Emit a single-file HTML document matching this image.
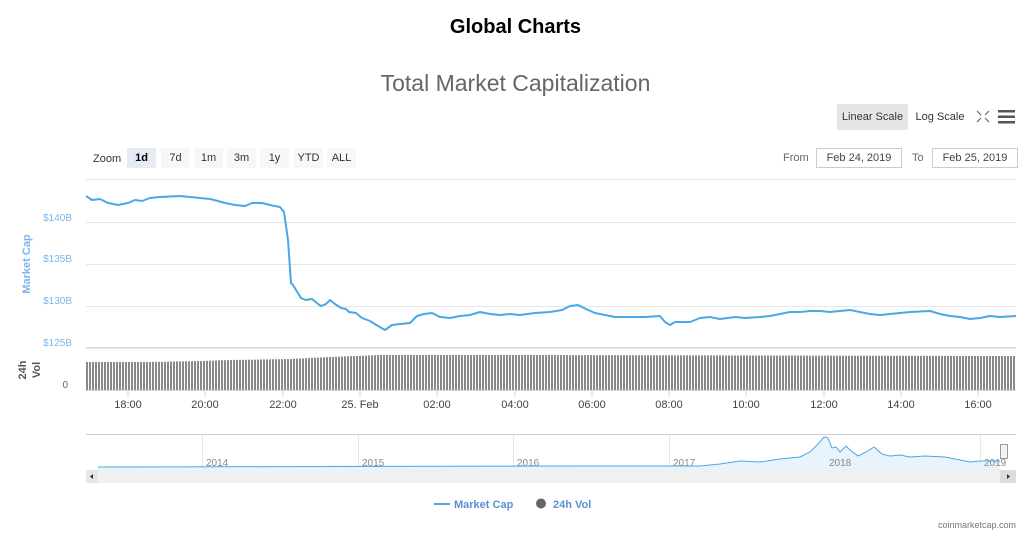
<!DOCTYPE html>
<html><head><meta charset="utf-8"><style>
body{margin:0;background:#fff;font-family:"Liberation Sans",sans-serif;}
svg text{font-family:"Liberation Sans",sans-serif;}
</style></head><body>
<svg width="1031" height="543" viewBox="0 0 1031 543" xmlns="http://www.w3.org/2000/svg">
<defs>
<pattern id="bars" x="86" y="0" width="3" height="10" patternUnits="userSpaceOnUse">
<rect x="0" y="0" width="2" height="10" fill="#8a8a8a"/>
</pattern>
</defs>
<text x="515.5" y="33" text-anchor="middle" font-size="20" font-weight="bold" fill="#000">Global Charts</text>
<text x="515.5" y="91" text-anchor="middle" font-size="23" fill="#666">Total Market Capitalization</text>
<!-- top right buttons -->
<rect x="837" y="104" width="71" height="26" fill="#e6e6e6"/>
<text x="872.5" y="120" text-anchor="middle" font-size="11" fill="#333">Linear Scale</text>
<text x="940" y="120" text-anchor="middle" font-size="11" fill="#333">Log Scale</text>
<g stroke="#666" stroke-width="1.2" fill="none">
<path d="M977 111 l4 4 M989 111 l-4 4 M977 122 l4 -4 M989 122 l-4 -4"/>
</g>
<rect x="998" y="110" width="17" height="2.5" fill="#555"/>
<rect x="998" y="115.5" width="17" height="2.5" fill="#555"/>
<rect x="998" y="121" width="17" height="2.5" fill="#555"/>
<!-- zoom buttons -->
<text x="93" y="162" font-size="11" fill="#333">Zoom</text>
<rect x="127" y="148" width="29" height="20" fill="#e6ebf5"/>
<text x="141.5" y="161" text-anchor="middle" font-size="11" font-weight="bold" fill="#000">1d</text>
<rect x="161" y="148" width="29" height="20" fill="#f7f7f7"/><text x="175.5" y="161" text-anchor="middle" font-size="11" fill="#333">7d</text>
<rect x="194" y="148" width="29" height="20" fill="#f7f7f7"/><text x="208.5" y="161" text-anchor="middle" font-size="11" fill="#333">1m</text>
<rect x="227" y="148" width="29" height="20" fill="#f7f7f7"/><text x="241.5" y="161" text-anchor="middle" font-size="11" fill="#333">3m</text>
<rect x="260" y="148" width="29" height="20" fill="#f7f7f7"/><text x="274.5" y="161" text-anchor="middle" font-size="11" fill="#333">1y</text>
<rect x="294" y="148" width="29" height="20" fill="#f7f7f7"/><text x="308.5" y="161" text-anchor="middle" font-size="11" fill="#333">YTD</text>
<rect x="327" y="148" width="29" height="20" fill="#f7f7f7"/><text x="341.5" y="161" text-anchor="middle" font-size="11" fill="#333">ALL</text>
<!-- date range -->
<text x="783" y="161" font-size="11" fill="#666">From</text>
<rect x="816.5" y="148.5" width="85" height="19" fill="#fff" stroke="#ccc"/>
<text x="859" y="161" text-anchor="middle" font-size="11" fill="#444">Feb 24, 2019</text>
<text x="912" y="161" font-size="11" fill="#666">To</text>
<rect x="932.5" y="148.5" width="85" height="19" fill="#fff" stroke="#ccc"/>
<text x="975" y="161" text-anchor="middle" font-size="11" fill="#444">Feb 25, 2019</text>
<!-- grid -->
<g stroke="#e6e6e6" stroke-width="1">
<line x1="86" y1="179.5" x2="1016" y2="179.5"/>
<line x1="86" y1="222.5" x2="1016" y2="222.5"/>
<line x1="86" y1="264.5" x2="1016" y2="264.5"/>
<line x1="86" y1="306.5" x2="1016" y2="306.5"/>
<line x1="86" y1="347.5" x2="1016" y2="347.5"/>
</g>
<line x1="86" y1="348" x2="1016" y2="348" stroke="#ccc" stroke-width="1"/>
<g font-size="10" fill="#7cb5ec" text-anchor="end">
<text x="72" y="221">$140B</text>
<text x="72" y="262">$135B</text>
<text x="72" y="304">$130B</text>
<text x="72" y="346">$125B</text>
</g>
<text transform="translate(30,264) rotate(-90)" text-anchor="middle" font-size="11" font-weight="bold" fill="#7cb5ec">Market Cap</text>
<text transform="translate(26,370) rotate(-90)" text-anchor="middle" font-size="11" font-weight="bold" fill="#555">24h</text>
<text transform="translate(40,370) rotate(-90)" text-anchor="middle" font-size="11" font-weight="bold" fill="#555">Vol</text>
<text x="68" y="388" text-anchor="end" font-size="10" fill="#666">0</text>
<!-- volume bars -->
<polygon fill="url(#bars)" points="86,362 150,362 200,361 230,360 290,359 330,357 380,355 430,355 520,355 1016,356 1016,390 86,390"/>
<!-- market cap line -->
<polyline fill="none" stroke="#4aa8e6" stroke-width="2" stroke-linejoin="round" points="86,196 92,200 100,199 108,203 118,205 128,203 135,200 142,201 150,198 160,197 180,196 190,197 200,198 210,199 218,201 225,203 235,205 245,206 252,203 262,203 270,205 280,207 284,212 288,240 291,283 293,285 296,290 301,298 306,300 312,299 318,304 321,306 326,304 330,300 335,304 341,308 346,309 349,312 356,313 362,318 370,321 378,326 385,330 392,325 400,324 410,323 417,316 424,314 432,313 440,317 450,318 460,316 470,315 480,312 490,314 500,315 510,314 520,315 535,313 550,312 562,310 570,306 578,305 586,309 595,313 605,315 615,317 630,317 645,317 660,316 665,322 670,325 675,322 690,322 700,318 710,317 720,319 735,317 745,318 760,317 770,316 780,314 790,312 800,312 810,311 820,311 830,312 840,311 850,310 860,312 870,314 880,315 890,314 910,312 930,311 940,314 950,316 960,317 970,319 980,318 990,316 1000,317 1016,316"/>
<!-- x axis -->
<line x1="86" y1="390.5" x2="1016" y2="390.5" stroke="#ccd6eb"/>
<g stroke="#ccd6eb">
<line x1="128" y1="390" x2="128" y2="397"/><line x1="205" y1="390" x2="205" y2="397"/><line x1="283" y1="390" x2="283" y2="397"/><line x1="360" y1="390" x2="360" y2="397"/><line x1="437" y1="390" x2="437" y2="397"/><line x1="515" y1="390" x2="515" y2="397"/><line x1="592" y1="390" x2="592" y2="397"/><line x1="669" y1="390" x2="669" y2="397"/><line x1="746" y1="390" x2="746" y2="397"/><line x1="824" y1="390" x2="824" y2="397"/><line x1="901" y1="390" x2="901" y2="397"/><line x1="978" y1="390" x2="978" y2="397"/>
</g>
<g font-size="11" fill="#444" text-anchor="middle">
<text x="128" y="408">18:00</text><text x="205" y="408">20:00</text><text x="283" y="408">22:00</text><text x="360" y="408">25. Feb</text><text x="437" y="408">02:00</text><text x="515" y="408">04:00</text><text x="592" y="408">06:00</text><text x="669" y="408">08:00</text><text x="746" y="408">10:00</text><text x="824" y="408">12:00</text><text x="901" y="408">14:00</text><text x="978" y="408">16:00</text>
</g>
<!-- navigator -->
<line x1="86" y1="434.5" x2="1016" y2="434.5" stroke="#ccc"/>
<g stroke="#e6e6e6">
<line x1="202.5" y1="435" x2="202.5" y2="470"/><line x1="358.5" y1="435" x2="358.5" y2="470"/><line x1="513.5" y1="435" x2="513.5" y2="470"/><line x1="669.5" y1="435" x2="669.5" y2="470"/><line x1="825.5" y1="435" x2="825.5" y2="470"/><line x1="980.5" y1="435" x2="980.5" y2="470"/>
</g>
<polygon fill="#e8f3fc" points="98,467 600,466 700,466 720,464 740,461 760,462 780,459 800,457 810,452 818,444 824,437 828,438 832,448 836,447 840,452 846,446 850,450 858,456 866,452 874,447 882,454 890,456 900,455 910,457 925,456 945,457 960,460 970,462 980,461 1000,461 1000,470 98,470"/>
<polyline fill="none" stroke="#4aa8e6" stroke-width="1" points="98,467 600,466 700,466 720,464 740,461 760,462 780,459 800,457 810,452 818,444 824,437 828,438 832,448 836,447 840,452 846,446 850,450 858,456 866,452 874,447 882,454 890,456 900,455 910,457 925,456 945,457 960,460 970,462 980,461 1000,461"/>
<g font-size="10" fill="#888">
<text x="206" y="466">2014</text><text x="362" y="466">2015</text><text x="517" y="466">2016</text><text x="673" y="466">2017</text><text x="829" y="466">2018</text><text x="984" y="466">2019</text>
</g>
<rect x="1000.5" y="444.5" width="7" height="14" fill="#f2f2f2" stroke="#999"/>
<rect x="86" y="470" width="930" height="13" fill="#f0f0f0"/>
<rect x="86" y="470" width="12" height="13" fill="#e6e6e6"/>
<rect x="1000" y="470" width="16" height="13" fill="#dcdcdc"/>
<path d="M93 474 l-3 2.5 l3 2.5z" fill="#333"/>
<path d="M1007 474 l3 2.5 l-3 2.5z" fill="#333"/>
<!-- legend -->
<line x1="434" y1="504" x2="450" y2="504" stroke="#4aa8e6" stroke-width="2"/>
<text x="454" y="508" font-size="11" font-weight="bold" fill="#5d8fd0">Market Cap</text>
<circle cx="541" cy="503.5" r="5" fill="#666"/>
<text x="553" y="508" font-size="11" font-weight="bold" fill="#5d8fd0">24h Vol</text>
<text x="1016" y="528" text-anchor="end" font-size="9" fill="#777">coinmarketcap.com</text>
</svg>
</body></html>
